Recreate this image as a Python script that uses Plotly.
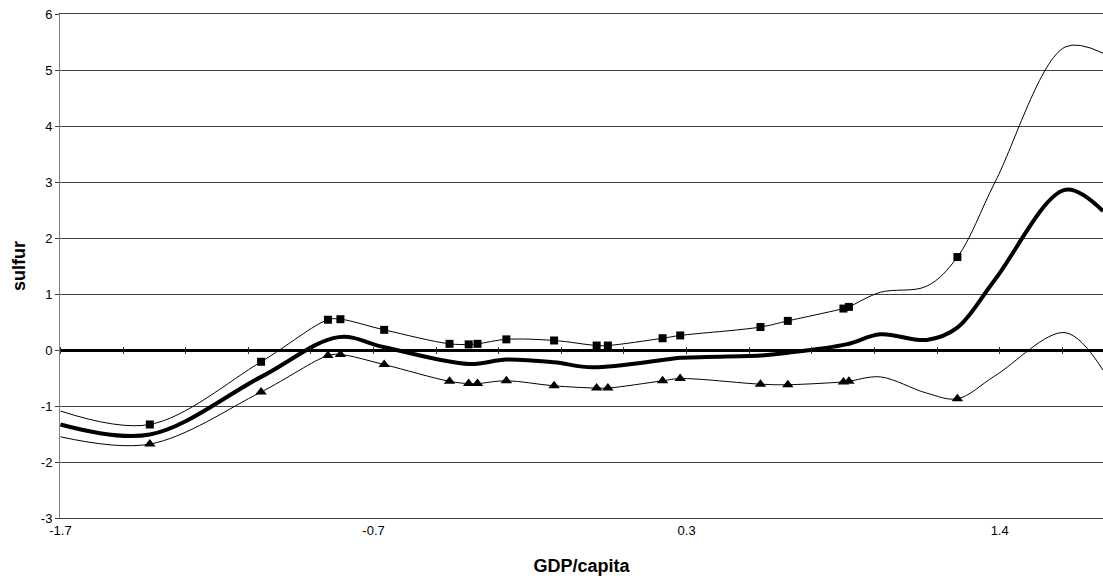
import plotly.graph_objects as go

# ---- data ----
# observed points (with markers)
gdp_obs = [-1.426, -1.060, -0.840, -0.799, -0.655, -0.440, -0.377, -0.348, -0.253,
           -0.096, 0.044, 0.081, 0.261, 0.319, 0.583, 0.673, 0.856, 0.874, 1.231]
upper_obs = [-1.33, -0.21, 0.54, 0.55, 0.36, 0.11, 0.10, 0.11, 0.19,
             0.17, 0.08, 0.08, 0.21, 0.26, 0.41, 0.52, 0.74, 0.77, 1.66]
lower_obs = [-1.68, -0.75, -0.10, -0.08, -0.26, -0.56, -0.60, -0.60, -0.55,
             -0.64, -0.68, -0.68, -0.55, -0.51, -0.61, -0.62, -0.57, -0.56, -0.87]

# extra curve points without markers
gdp_grid = [-1.72, 0.977, 1.130, 1.355, 1.585, 1.710]
upper_grid = [-1.09, 1.03, 1.14, 3.00, 5.41, 5.30]
lower_grid = [-1.55, -0.48, -0.77, -0.46, 0.31, -0.36]

# central estimate (thick line)
gdp_mid = [-1.72, -1.426, -1.060, -0.805, -0.655, -0.377, -0.253,
           -0.096, 0.030, 0.261, 0.319, 0.583, 0.673, 0.865, 0.977,
           1.130, 1.231, 1.355, 1.585, 1.710]
mid = [-1.33, -1.51, -0.48, 0.23, 0.05, -0.25, -0.17,
       -0.22, -0.31, -0.18, -0.14, -0.10, -0.05, 0.10, 0.28,
       0.18, 0.40, 1.26, 2.86, 2.48]

# axis ticks
x_tickvals = [-1.72, -0.69, 0.34, 1.37]
x_ticktext = ["-1.7", "-0.7", "0.3", "1.4"]
y_tickvals = [-3, -2, -1, 0, 1, 2, 3, 4, 5, 6]
y_ticktext = ["-3", "-2", "-1", "0", "1", "2", "3", "4", "5", "6"]

x_range = [-1.7216, 1.710]
y_range = [-3, 6]


def merge(xa, ya, xb, yb):
    pts = sorted(zip(list(xa) + list(xb), list(ya) + list(yb)))
    return [p[0] for p in pts], [p[1] for p in pts]


ux, uy = merge(gdp_obs, upper_obs, gdp_grid, upper_grid)
lx, ly = merge(gdp_obs, lower_obs, gdp_grid, lower_grid)

FONT = "Arial, 'Liberation Sans', sans-serif"

fig = go.Figure()
fig.add_trace(go.Scatter(x=ux, y=uy, mode="lines", line=dict(color="black", width=1, shape="spline"),
                         hoverinfo="skip", showlegend=False))
fig.add_trace(go.Scatter(x=lx, y=ly, mode="lines", line=dict(color="black", width=1, shape="spline"),
                         hoverinfo="skip", showlegend=False))
fig.add_trace(go.Scatter(x=gdp_obs, y=upper_obs, mode="markers",
                         marker=dict(symbol="square", size=8, color="black"),
                         showlegend=False))
fig.add_trace(go.Scatter(x=gdp_obs, y=lower_obs, mode="markers",
                         marker=dict(symbol="triangle-up", size=10, color="black"),
                         showlegend=False, xaxis="x3"))
fig.add_trace(go.Scatter(x=gdp_mid, y=mid, mode="lines",
                         line=dict(color="black", width=4, shape="spline"),
                         showlegend=False, xaxis="x2"))

grid_col = "#404040"
fig.update_layout(
    width=1103, height=581,
    margin=dict(l=60, r=0, t=14, b=63),
    paper_bgcolor="white", plot_bgcolor="white",
    font=dict(family=FONT, color="black", size=13),
    xaxis=dict(
        range=x_range, tickmode="array", tickvals=x_tickvals, ticktext=x_ticktext,
        showgrid=False, zeroline=False, ticks="",
        showline=True, linecolor=grid_col, linewidth=1, mirror=True,
        tickfont=dict(size=13, color="black"),
        title=dict(text="<b>GDP/capita</b>", font=dict(size=18), standoff=22),
        automargin=False,
    ),
    xaxis2=dict(
        overlaying="x", matches="x", anchor="free", position=1 / 3, side="bottom",
        tickmode="linear", tick0=-1.72, dtick=0.206, ticks="outside", ticklen=3,
        tickcolor="#333333", tickwidth=1, showticklabels=False,
        showline=False, showgrid=False, zeroline=False,
    ),
    xaxis3=dict(
        overlaying="x", matches="x", anchor="free", position=1 / 3, side="top",
        tickmode="linear", tick0=-1.72, dtick=0.206, ticks="outside", ticklen=3,
        tickcolor="#333333", tickwidth=1, showticklabels=False,
        showline=False, showgrid=False, zeroline=False,
    ),
    yaxis=dict(
        range=y_range, tickmode="array", tickvals=y_tickvals, ticktext=y_ticktext,
        showgrid=True, gridcolor=grid_col, gridwidth=1,
        zeroline=True, zerolinecolor="black", zerolinewidth=2.5,
        showline=True, linecolor="#808080", linewidth=1,
        ticks="outside", ticklen=4, tickcolor=grid_col,
        tickfont=dict(size=13, color="black"),
        title=dict(text="<b>sulfur</b>", font=dict(size=18), standoff=10),
        automargin=False,
    ),
)

fig.write_html("out.html", config={"displayModeBar": False},
               post_script="document.body.style.margin='0';")
